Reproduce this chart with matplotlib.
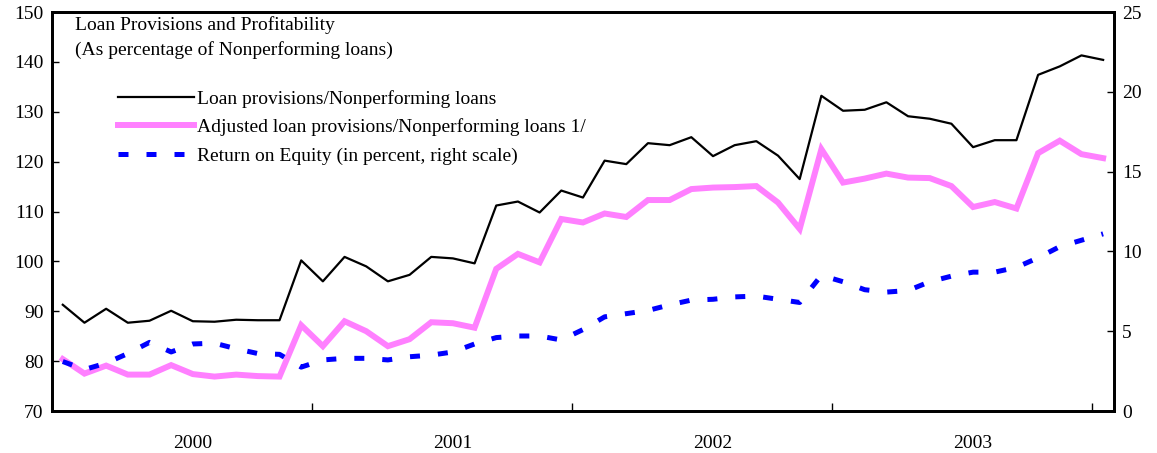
import numpy as np
import matplotlib
matplotlib.use("Agg")
import matplotlib.pyplot as plt

plt.rcParams['font.family'] = ['Liberation Serif', 'DejaVu Serif']

# monthly, Jan 2000 - Jan 2004
provisions = [91.3, 87.7, 90.5, 87.7, 88.1, 90.1, 88.0, 87.9, 88.3, 88.2, 88.2, 100.2,
              96.0, 100.9, 99.0, 96.0, 97.3, 100.9, 100.6, 99.6, 111.2, 112.0, 109.8, 114.2,
              112.8, 120.2, 119.5, 123.7, 123.3, 124.9, 121.1, 123.3, 124.1, 121.2, 116.5, 133.2,
              130.2, 130.4, 131.9, 129.1, 128.6, 127.6, 122.9, 124.3, 124.3, 137.4, 139.1, 141.3,
              140.4]
adjusted = [80.4, 77.5, 79.1, 77.3, 77.3, 79.2, 77.4, 76.9, 77.3, 77.0, 76.9, 87.2,
            83.0, 88.0, 86.0, 83.0, 84.4, 87.8, 87.6, 86.7, 98.5, 101.5, 99.8, 108.5,
            107.8, 109.6, 108.9, 112.3, 112.3, 114.5, 114.8, 114.9, 115.1, 111.8, 106.5, 122.5,
            115.8, 116.6, 117.6, 116.8, 116.7, 115.1, 110.9, 111.9, 110.6, 121.7, 124.2, 121.5,
            120.7]
roe = [3.1, 2.6, 3.0, 3.6, 4.3, 3.7, 4.2, 4.25, 3.9, 3.6, 3.55, 2.75,
       3.2, 3.3, 3.3, 3.2, 3.4, 3.5, 3.7, 4.2, 4.6, 4.7, 4.7, 4.45,
       5.1, 5.9, 6.1, 6.3, 6.65, 6.95, 7.0, 7.15, 7.2, 7.0, 6.8, 8.5,
       8.1, 7.6, 7.45, 7.55, 8.1, 8.45, 8.7, 8.7, 9.0, 9.6, 10.3, 10.7,
       11.1]
years = ['2000', '2001', '2002', '2003']

x = np.arange(len(provisions))

fig = plt.figure(figsize=(11.57, 4.53), dpi=100)
ax = fig.add_axes([0.0449, 0.0927, 0.9179, 0.8808])
ax2 = ax.twinx()

l1, = ax.plot(x, provisions, color='black', lw=1.6, label='Loan provisions/Nonperforming loans')
l2, = ax.plot(x, adjusted, color='#ff80ff', lw=4.3, solid_joinstyle='miter',
              label='Adjusted loan provisions/Nonperforming loans 1/')
l3, = ax2.plot(x, roe, color='#0000ff', lw=3.6, dashes=(2.0, 3.6),
               label='Return on Equity (in percent, right scale)')

ax.set_xlim(-0.5, len(x) - 0.5)
ax.set_ylim(70, 150)
ax.set_yticks(np.arange(70, 151, 10))
ax2.set_ylim(0, 25)
ax2.set_yticks(np.arange(0, 26, 5))

# year separators and labels
ax.set_xticks([11.5, 23.5, 35.5, 47.5])
ax.set_xticklabels([])
ax.set_xticks([6, 18, 30, 42], minor=True)
ax.set_xticklabels(years, minor=True)
ax.tick_params(axis='x', which='major', direction='in', length=6, width=1)
ax.tick_params(axis='x', which='minor', length=0, pad=17, labelsize=14)
ax.tick_params(axis='y', direction='in', length=5, width=1, labelsize=14, pad=6)
ax2.tick_params(axis='y', direction='in', length=5, width=1, labelsize=14, pad=6)

for a in (ax, ax2):
    for s in a.spines.values():
        s.set_linewidth(2)

ax.text(0.0217, 0.99, 'Loan Provisions and Profitability', transform=ax.transAxes,
        fontsize=14, va='top')
ax.text(0.0217, 0.927, '(As percentage of Nonperforming loans)', transform=ax.transAxes,
        fontsize=14, va='top')

ax.legend(handles=[l1, l2, l3], loc='upper left', bbox_to_anchor=(0.062, 0.805),
          frameon=False, fontsize=14, handlelength=3.9, handletextpad=0.15,
          labelspacing=0.55, borderaxespad=0, borderpad=0)

fig.savefig('out.png', dpi=100)
